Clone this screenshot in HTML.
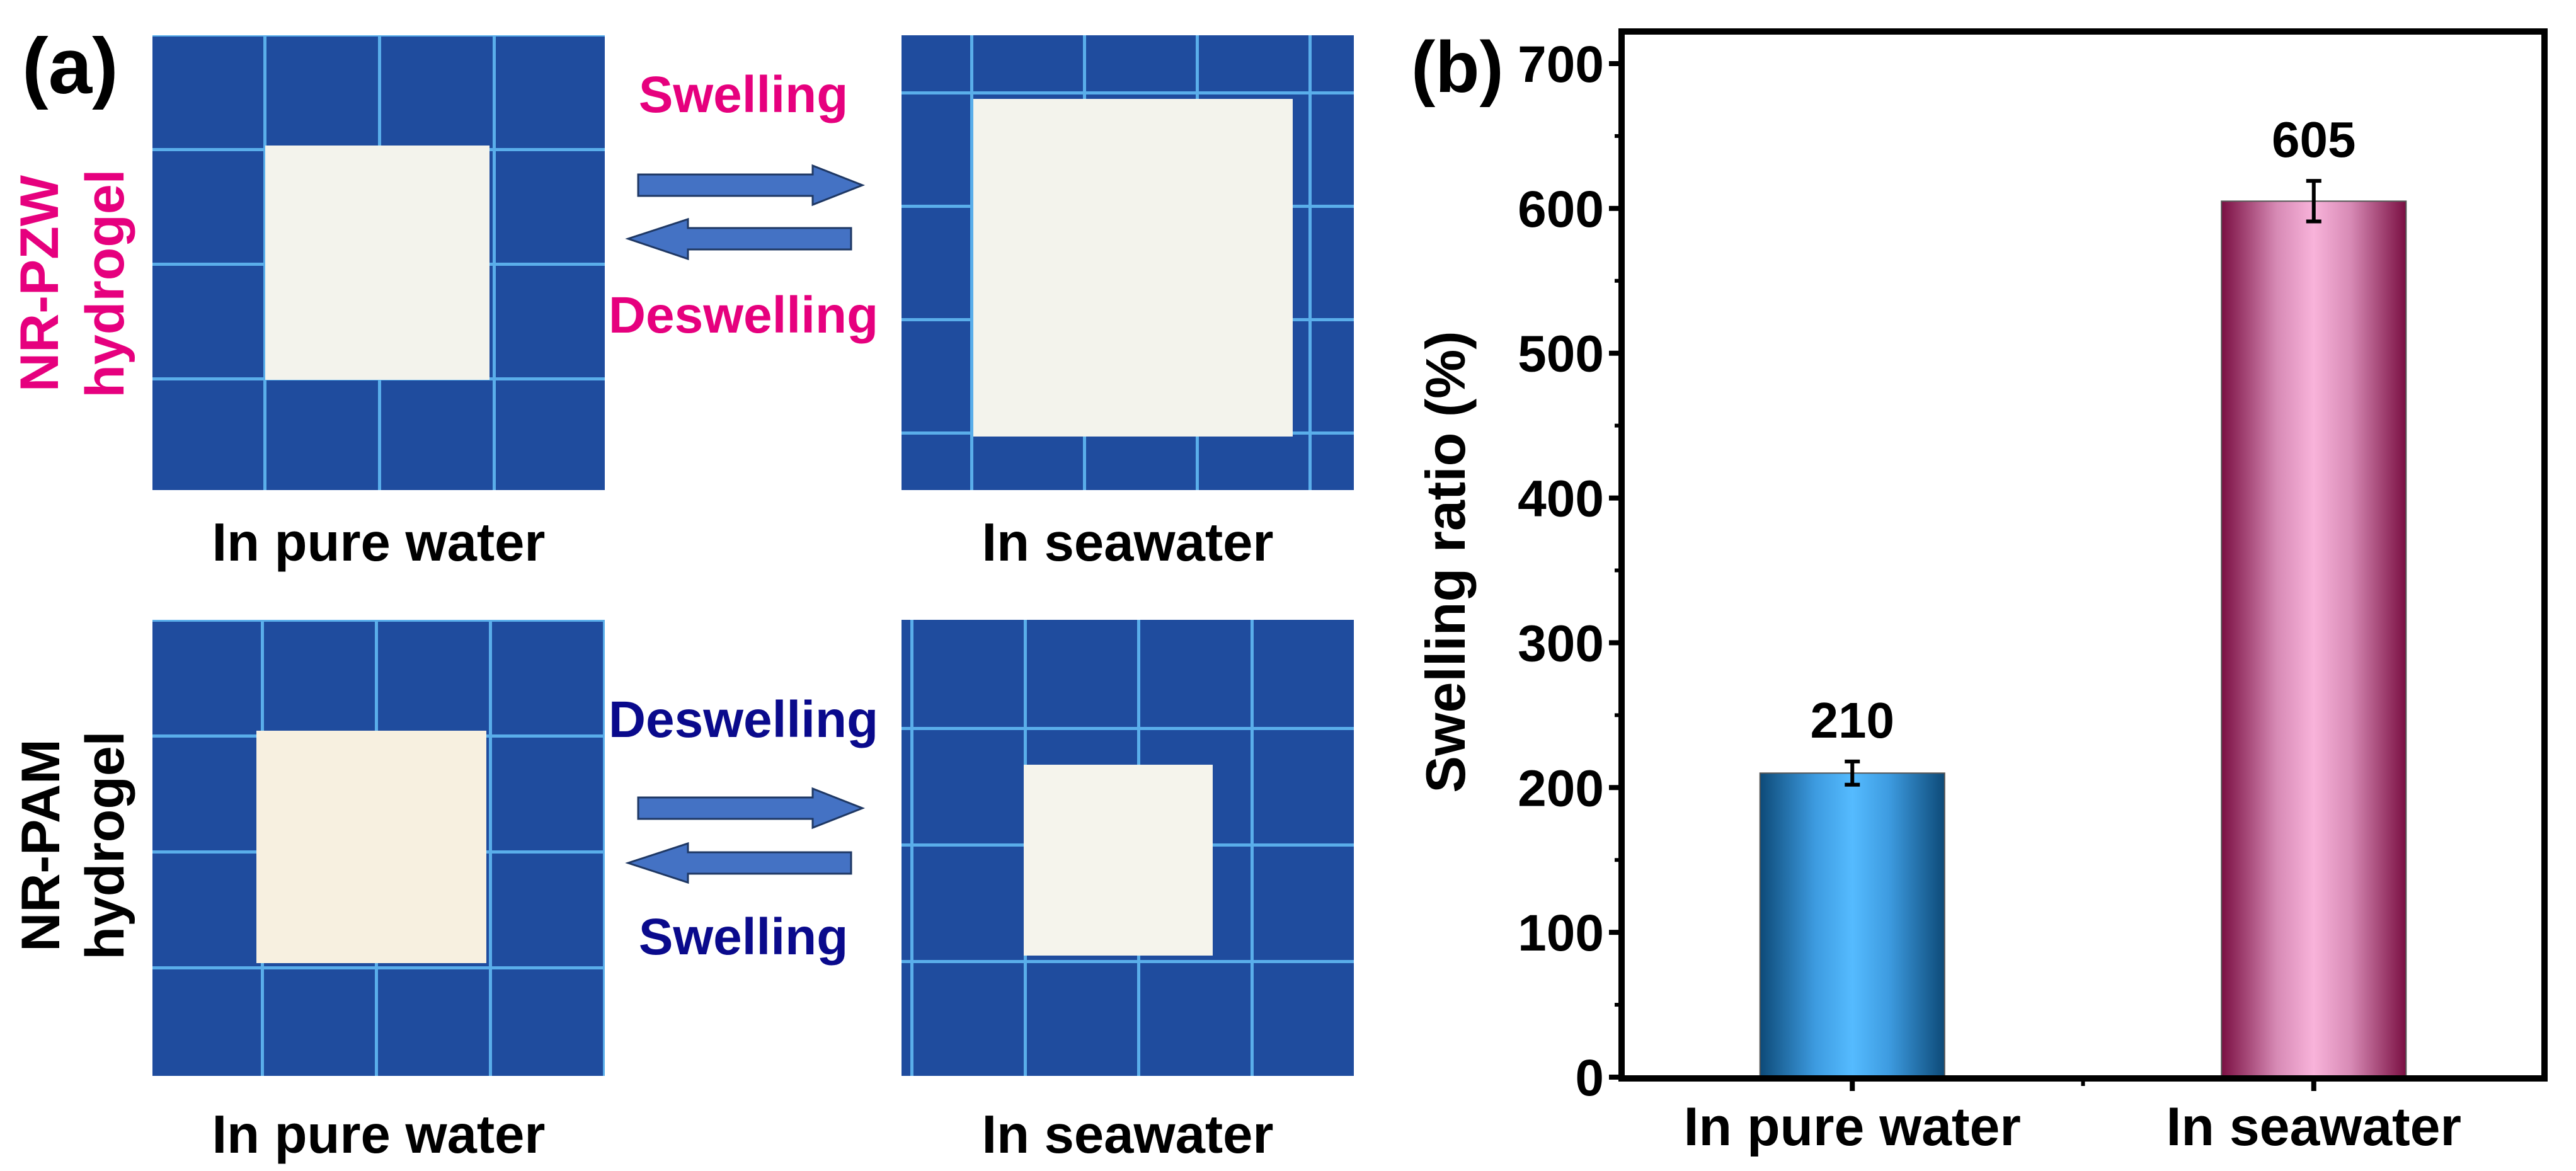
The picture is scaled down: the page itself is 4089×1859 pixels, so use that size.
<!DOCTYPE html>
<html><head><meta charset="utf-8"><style>
html,body{margin:0;padding:0;background:#fff;}
svg{display:block;font-family:"Liberation Sans",Arial,sans-serif;font-weight:bold;}
</style></head><body>
<svg id="fig" width="4089" height="1859" viewBox="0 0 4089 1859" xmlns="http://www.w3.org/2000/svg">
<defs>
<pattern id="grid1" x="418" y="235" width="182" height="182" patternUnits="userSpaceOnUse"><rect width="182" height="182" fill="#1f4c9e"/><rect width="5" height="182" fill="#5aaeea"/><rect width="182" height="5" fill="#5aaeea"/></pattern>
<pattern id="grid2" x="1540" y="145" width="179" height="180" patternUnits="userSpaceOnUse"><rect width="179" height="180" fill="#1f4c9e"/><rect width="5" height="180" fill="#5aaeea"/><rect width="179" height="5" fill="#5aaeea"/></pattern>
<pattern id="grid3" x="414" y="1166" width="181" height="184" patternUnits="userSpaceOnUse"><rect width="181" height="184" fill="#1f4c9e"/><rect width="5" height="184" fill="#5aaeea"/><rect width="181" height="5" fill="#5aaeea"/></pattern>
<pattern id="grid4" x="1445" y="1154" width="180" height="185" patternUnits="userSpaceOnUse"><rect width="180" height="185" fill="#1f4c9e"/><rect width="5" height="185" fill="#5aaeea"/><rect width="180" height="5" fill="#5aaeea"/></pattern>
<linearGradient id="gBlue" x1="0" x2="1" y1="0" y2="0"><stop offset="0" stop-color="#0d4a78"/><stop offset="0.3" stop-color="#3d9be0"/><stop offset="0.5" stop-color="#55bbff"/><stop offset="0.7" stop-color="#3d9be0"/><stop offset="1" stop-color="#0d4a78"/></linearGradient>
<linearGradient id="gPink" x1="0" x2="1" y1="0" y2="0"><stop offset="0" stop-color="#7a0f42"/><stop offset="0.3" stop-color="#d78ab5"/><stop offset="0.5" stop-color="#f8b3da"/><stop offset="0.7" stop-color="#d78ab5"/><stop offset="1" stop-color="#7a0f42"/></linearGradient>
</defs>

<text x="35" y="148" font-size="125" fill="#000">(a)</text>

<g>
<rect x="242" y="56" width="718" height="722" fill="url(#grid1)"/>
<rect x="421" y="231" width="356" height="372" fill="#f3f3ec"/>
</g>
<g>
<rect x="1431" y="56" width="718" height="722" fill="url(#grid2)"/>
<rect x="1545" y="157" width="507" height="536" fill="#f3f3ec"/>
</g>
<g>
<rect x="242" y="984" width="718" height="724" fill="url(#grid3)"/>
<rect x="407" y="1160" width="365" height="369" fill="#f7f0e0"/>
</g>
<g>
<rect x="1431" y="984" width="718" height="724" fill="url(#grid4)"/>
<rect x="1625" y="1214" width="300" height="303" fill="#f5f4ec"/>
</g>

<text transform="translate(92,450) rotate(-90)" text-anchor="middle" font-size="86" fill="#e6007e">NR-PZW</text>
<text transform="translate(196,450) rotate(-90)" text-anchor="middle" font-size="86" fill="#e6007e">hydrogel</text>
<text transform="translate(94,1342) rotate(-90)" text-anchor="middle" font-size="86" fill="#000">NR-PAM</text>
<text transform="translate(196,1342) rotate(-90)" text-anchor="middle" font-size="86" fill="#000">hydrogel</text>

<text x="601" y="890" text-anchor="middle" font-size="85">In pure water</text>
<text x="1790" y="890" text-anchor="middle" font-size="85">In seawater</text>
<text x="601" y="1830" text-anchor="middle" font-size="85">In pure water</text>
<text x="1790" y="1830" text-anchor="middle" font-size="85">In seawater</text>

<text x="1180" y="178" text-anchor="middle" font-size="82" fill="#e6007e">Swelling</text>
<text x="1180" y="528" text-anchor="middle" font-size="82" fill="#e6007e">Deswelling</text>
<polygon points="1013,277 1290,277 1290,263 1369,294 1290,325 1290,311 1013,311" fill="#4472c4" stroke="#1f3864" stroke-width="3"/>
<polygon points="1351,362 1092,362 1092,348 997,379 1092,411 1092,396 1351,396" fill="#4472c4" stroke="#1f3864" stroke-width="3"/>

<text x="1180" y="1170" text-anchor="middle" font-size="82" fill="#0a0a8c">Deswelling</text>
<text x="1180" y="1515" text-anchor="middle" font-size="82" fill="#0a0a8c">Swelling</text>
<polygon points="1013,1266 1290,1266 1290,1252 1369,1283 1290,1314 1290,1300 1013,1300" fill="#4472c4" stroke="#1f3864" stroke-width="3"/>
<polygon points="1351,1353 1092,1353 1092,1339 997,1370 1092,1401 1092,1387 1351,1387" fill="#4472c4" stroke="#1f3864" stroke-width="3"/>

<text x="2240" y="146" font-size="115" fill="#000">(b)</text>
<g id="chart"></g>
</svg>
<script>
const categories = ["In pure water", "In seawater"];
const values = [210, 605];
const errors = [8, 14];
const valueLabels = ["210", "605"];
const yTicks = [0, 100, 200, 300, 400, 500, 600, 700];

const NS = "http://www.w3.org/2000/svg";
const X0 = 2574, X1 = 4039, Y0 = 1710, Y700 = 101, YTOP = 50, YBOT = 1712;
function yScale(v){ return Y0 - (v / 700) * (Y0 - Y700); }
function xScale(i){ return X0 + (X1 - X0) * (0.25 + 0.5 * i); }
const barW = (X1 - X0) * 0.2;
const chart = document.getElementById('chart');
function mk(tag, attrs){ const e = document.createElementNS(NS, tag); for (const k in attrs) e.setAttribute(k, attrs[k]); chart.appendChild(e); return e; }

categories.forEach((c, i) => {
  const cx = xScale(i);
  const bar = mk('rect', {x: cx - barW/2, y: yScale(values[i]), width: barW, height: Y0 - yScale(values[i]), fill: i === 0 ? 'url(#gBlue)' : 'url(#gPink)', stroke: '#555', 'stroke-width': 2});
  
  
  const yt = yScale(values[i] + errors[i]), yb = yScale(values[i] - errors[i]);
  const eb = mk('path', {d: `M${cx},${yt}V${yb}M${cx-12},${yt}H${cx+12}M${cx-12},${yb}H${cx+12}`, stroke: '#000', 'stroke-width': 6, fill: 'none'});
  
  
  const vl = mk('text', {x: cx, y: yt - 38, 'text-anchor': 'middle', 'font-size': 80});
  vl.textContent = valueLabels[i];
  
  
  const cl = mk('text', {x: cx, y: 1818, 'text-anchor': 'middle', 'font-size': 86});
  cl.textContent = c;
  
  
  const tk = mk('line', {x1: cx, x2: cx, y1: YBOT, y2: YBOT + 20, stroke: '#000', 'stroke-width': 8});
  
  
});
const mt = mk('line', {x1: (X0+X1)/2, x2: (X0+X1)/2, y1: YBOT, y2: YBOT + 12, stroke: '#000', 'stroke-width': 6});



yTicks.forEach((t, i) => {
  const y = yScale(t);
  const l = mk('line', {x1: X0 - 20, x2: X0, y1: y, y2: y, stroke: '#000', 'stroke-width': 8});
  
  
  const tx = mk('text', {x: X0 - 28, y: y + 29, 'text-anchor': 'end', 'font-size': 82});
  tx.textContent = t;
  
  
  if (i < yTicks.length - 1) {
    const ym = yScale(t + 50);
    const m = mk('line', {x1: X0 - 11, x2: X0, y1: ym, y2: ym, stroke: '#000', 'stroke-width': 6});
    
    
  }
});
const frame = mk('rect', {x: X0, y: YTOP, width: X1 - X0, height: YBOT - YTOP, fill: 'none', stroke: '#000', 'stroke-width': 10});


const yt = mk('text', {transform: 'translate(2325,892) rotate(-90)', 'text-anchor': 'middle', 'font-size': 88});
yt.textContent = 'Swelling ratio (%)';


</script>
</body></html>
